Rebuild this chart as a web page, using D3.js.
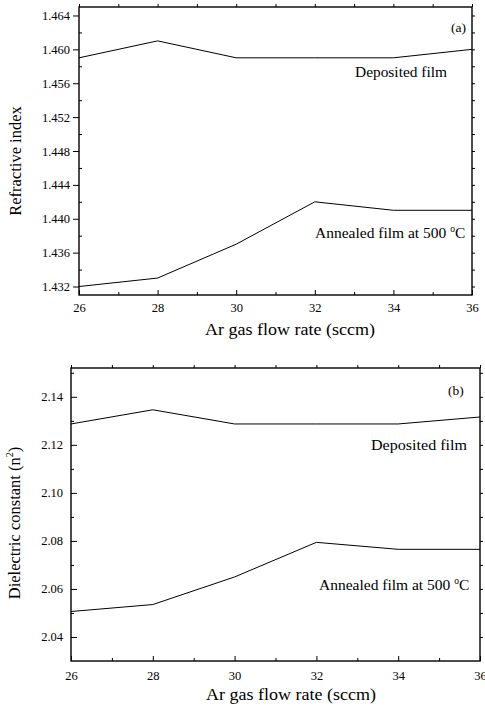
<!DOCTYPE html>
<html>
<head>
<meta charset="utf-8">
<script src="https://cdn.jsdelivr.net/npm/d3@7"></script>
<style>
  body { margin: 0; background: #fff; }
  svg { display: block; }
</style>
</head>
<body>
<div id="chart"></div>
<script>
//Datos
const flowRates = [26, 28, 30, 32, 34, 36];
const nDeposited = [1.459, 1.461, 1.459, 1.459, 1.459, 1.460];
const nAnnealed = [1.432, 1.433, 1.437, 1.442, 1.441, 1.441];
const epsDeposited = [2.1287, 2.1346, 2.1287, 2.1287, 2.1287, 2.1316];
const epsAnnealed = [2.0506, 2.0535, 2.0650, 2.0794, 2.0765, 2.0765];

const xTicks = [26, 28, 30, 32, 34, 36];
const xMinorTicks = [27, 29, 31, 33, 35];
const nTicks = [1.432, 1.436, 1.440, 1.444, 1.448, 1.452, 1.456, 1.460, 1.464];
const nMinorTicks = [1.434, 1.438, 1.442, 1.446, 1.450, 1.454, 1.458, 1.462];
const epsTicks = [2.04, 2.06, 2.08, 2.10, 2.12, 2.14];
const epsMinorTicks = [2.05, 2.07, 2.09, 2.11, 2.13, 2.15];

const seriesNames = ['Deposited film', 'Annealed film at 500 '];
const SERIF = '"Liberation Serif", "Times New Roman", serif';

let svg = d3.select('#chart')
    .append('svg')
    .attr('width', 485)
    .attr('height', 708)
    .style('font-family', SERIF);

function drawPanel(cfg) {
    let x = d3.scaleLinear().domain([26, 36]).range([cfg.left, cfg.right]);
    let y = d3.scaleLinear().domain(cfg.yDomain).range([cfg.bottom, cfg.top]);
    let g = svg.append('g');
    let h = cfg.bottom - cfg.top, w = cfg.right - cfg.left;

    //Ejes principales
    g.append('g')
        .attr('transform', 'translate(0,' + cfg.bottom + ')')
        .call(d3.axisBottom(x).tickValues(xTicks).tickSize(-5).tickSizeOuter(0).tickPadding(cfg.xPad))
        .call(function(g) { g.select('.domain').remove(); });
    g.append('g')
        .attr('transform', 'translate(0,' + cfg.bottom + ')')
        .call(d3.axisBottom(x).tickValues(xMinorTicks).tickSize(-3).tickFormat(''))
        .call(function(g) { g.select('.domain').remove(); });

    g.append('g')
        .attr('transform', 'translate(' + cfg.left + ',0)')
        .call(d3.axisLeft(y).tickValues(cfg.yTicks).tickSize(cfg.yMajorSize).tickPadding(cfg.yPad).tickFormat(d3.format(cfg.yFormat)))
        .call(function(g) { g.select('.domain').remove(); });
    g.append('g')
        .attr('transform', 'translate(' + cfg.left + ',0)')
        .call(d3.axisLeft(y).tickValues(cfg.yMinor).tickSize(-3).tickFormat(''))
        .call(function(g) { g.select('.domain').remove(); });

    //Ejes espejo (arriba y derecha)
    g.append('g')
        .attr('transform', 'translate(0,' + cfg.top + ')')
        .call(d3.axisTop(x).tickValues(xTicks.concat(xMinorTicks)).tickSize(3).tickFormat(''))
        .call(function(g) { g.select('.domain').remove(); });
    g.append('g')
        .attr('transform', 'translate(' + cfg.right + ',0)')
        .call(d3.axisRight(y).tickValues(cfg.yTicks.concat(cfg.yMinor)).tickSize(3).tickFormat(''))
        .call(function(g) { g.select('.domain').remove(); });

    g.selectAll('.tick line').attr('stroke', '#000').attr('stroke-width', 1);
    g.selectAll('g').attr('font-family', null);
    g.selectAll('.tick text').attr('font-size', 12.5).attr('fill', '#000');

    g.append('rect')
        .attr('x', cfg.left).attr('y', cfg.top)
        .attr('width', w).attr('height', h)
        .attr('fill', 'none').attr('stroke', '#000').attr('stroke-width', 1.4);

    //Líneas
    let line = d3.line()
        .x(function(d, i) { return x(flowRates[i]); })
        .y(function(d) { return y(d); });

    [cfg.dep, cfg.ann].forEach(function(s) {
        g.append('path')
            .datum(s)
            .attr('d', line)
            .attr('fill', 'none')
            .attr('stroke', '#000')
            .attr('stroke-width', 1);
    });

    //Textos
    g.append('text')
        .attr('x', cfg.tagX).attr('y', cfg.tagY)
        .attr('font-size', 13.5)
        .text(cfg.tag);

    g.append('text')
        .attr('x', cfg.depX).attr('y', cfg.depY)
        .attr('font-size', 15)
        .attr('textLength', cfg.depW).attr('lengthAdjust', 'spacingAndGlyphs')
        .text(seriesNames[0]);

    let ann = g.append('text')
        .attr('x', cfg.annX).attr('y', cfg.annY)
        .attr('font-size', 15.5);
    ann.append('tspan').text(seriesNames[1]);
    ann.append('tspan').attr('font-size', 9.5).attr('dy', -6.5).text('o');
    ann.append('tspan').attr('dy', 6.5).text('C');

    g.append('text')
        .attr('x', cfg.xtX).attr('y', cfg.xtY)
        .attr('font-size', 16.5)
        .attr('textLength', 170).attr('lengthAdjust', 'spacingAndGlyphs')
        .text('Ar gas flow rate (sccm)');

    let yt = g.append('text')
        .attr('transform', 'translate(' + cfg.ytX + ',' + cfg.ytY + ') rotate(-90)')
        .attr('text-anchor', 'middle')
        .attr('font-size', 16.5);
    if (cfg.super) {
        yt.append('tspan').text(cfg.yTitle);
        yt.append('tspan').attr('font-size', 10).attr('dy', -7).text('2');
        yt.append('tspan').attr('dy', 7).text(')');
    } else {
        yt.text(cfg.yTitle);
    }
}

drawPanel({
    left: 79, right: 472, top: 7, bottom: 295,
    yDomain: [1.431, 1.465], yTicks: nTicks, yMinor: nMinorTicks, yFormat: '.3f',
    yMajorSize: 6, yPad: 3, xPad: 8,
    dep: nDeposited, ann: nAnnealed,
    tag: '(a)', tagX: 451, tagY: 32,
    depX: 355, depY: 77, depW: 92,
    annX: 315, annY: 238,
    xtX: 205, xtY: 335,
    ytX: 21, ytY: 161, yTitle: 'Refractive index', super: false
});

drawPanel({
    left: 71, right: 480, top: 368, bottom: 661,
    yDomain: [2.03, 2.152], yTicks: epsTicks, yMinor: epsMinorTicks, yFormat: '.2f',
    yMajorSize: -6, yPad: 8, xPad: 10,
    dep: epsDeposited, ann: epsAnnealed,
    tag: '(b)', tagX: 448, tagY: 395,
    depX: 371, depY: 450, depW: 96,
    annX: 319, annY: 590,
    xtX: 206, xtY: 700,
    ytX: 20, ytY: 523, yTitle: 'Dielectric constant (n', super: true
});
</script>
</body>
</html>
